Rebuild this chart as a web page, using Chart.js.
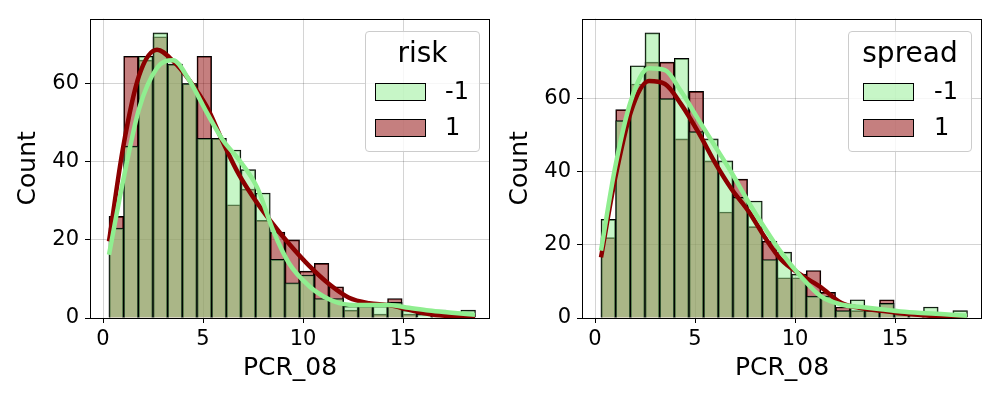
<!DOCTYPE html>
<html>
<head>
<meta charset="utf-8">
<script src="https://cdn.jsdelivr.net/npm/chart.js@4.4.1/dist/chart.umd.min.js"></script>
<style>
  body { margin: 0; background: #fff; font-family: "DejaVu Sans", sans-serif; }
  #wrap { position: relative; width: 1000px; height: 400px; overflow: hidden; }
  canvas { position: absolute; top: 0; }
  .legend { position: absolute; border: 1px solid #cccccc; border-radius: 4px; background: rgba(255,255,255,0.8); box-sizing: border-box; }
  .legend div { position: absolute; white-space: nowrap; line-height: 1; color: #000; }
  .patch { border: 1px solid #000; box-sizing: border-box; }
</style>
</head>
<body>
<div id="wrap">
  <canvas id="left" width="500" height="400" style="left:0"></canvas>
  <canvas id="right" width="500" height="400" style="left:500px"></canvas>
</div>
<script>
// histogram bins of PCR_08 (same bins in both panels)
const binStart = 0.3;
const binWidth = 0.733;
const hueLevels = ['-1', '1'];

// left panel: hue = risk
const riskGreen = [23, 44, 67, 73, 65, 60, 46, 46, 43, 38, 32, 15, 9, 11, 5, 5, 3, 3, 3, 4, 2, 1, 2, 1, 2];
const riskRed   = [26, 67, 66, 72, 65, 60, 67, 46, 29, 33, 25, 22, 20, 12, 14, 8, 2, 4, 1, 5, 1, 0, 1, 1, 0];

// right panel: hue = spread
const spreadGreen = [27, 54, 69, 78, 60, 71, 51, 49, 43, 33, 32, 16, 18, 12, 6, 6, 2, 5, 2, 4, 2, 1, 3, 1, 2];
const spreadRed   = [22, 57, 64, 70, 70, 49, 62, 43, 29, 38, 25, 21, 11, 11, 13, 7, 3, 2, 2, 5, 1, 1, 0, 1, 0];

// kde curves (in count units)
const kdeX = [0.3, 1.0, 1.8, 2.7, 3.5, 4.3, 5.2, 6.0, 6.8, 7.7, 8.5, 9.3, 10.3, 11.3, 12.3, 13.3, 14.3, 15.3, 16.3, 17.3, 18.6];
const riskKdeGreen   = [16.2, 35, 53.5, 64, 66, 61, 52.5, 45.5, 40.5, 33.5, 22.5, 14, 8.2, 4.8, 3.4, 3.3, 3.3, 2.6, 1.9, 1.4, 0.8];
const riskKdeRed     = [19.6, 43.5, 62, 68.7, 65.8, 61, 54, 45, 36.7, 29.5, 24, 19, 13.4, 8.7, 5.2, 3.8, 3.3, 2.1, 1.0, 0.5, 0.3];
const spreadKdeGreen = [18.4, 41, 59.5, 68.3, 67.8, 62, 54, 47, 40, 31.5, 24.5, 18, 11.3, 5.9, 3.7, 3.0, 2.4, 1.8, 1.4, 1.1, 0.6];
const spreadKdeRed   = [16.6, 38, 56.5, 64.8, 64, 58.5, 50.5, 42.5, 35.5, 29, 22, 16, 11.8, 8.4, 4.2, 2.7, 2.0, 1.3, 0.8, 0.4, 0.2];

const xTicks = [0, 5, 10, 15];

const GREEN = 'lightgreen', GREEN_FILL = 'rgba(144,238,144,0.5)';
const RED = 'darkred', RED_FILL = 'rgba(139,0,0,0.5)';

Chart.defaults.font.family = '"DejaVu Sans", sans-serif';
Chart.defaults.color = '#000';

// draws the four spines
const frame = {
  id: 'frame',
  afterDraw(chart) {
    const a = chart.chartArea, c = chart.ctx;
    c.save();
    c.strokeStyle = '#000';
    c.lineWidth = 1;
    c.strokeRect(Math.round(a.left) + 0.5, Math.round(a.top) + 0.5, Math.round(a.right - a.left) - 1, Math.round(a.bottom - a.top));
    c.restore();
  }
};

function bars(counts) {
  return counts.map((v, i) => ({ x: binStart + binWidth * (i + 0.5), y: v }));
}
function curve(ys) {
  return kdeX.map((x, i) => ({ x: x, y: ys[i] }));
}

function panel(id, green, red, kdeGreen, kdeRed, yMax, axisW, padRight, titlePad) {
  new Chart(document.getElementById(id), {
    type: 'bar',
    data: {
      datasets: [
        { type: 'line', data: curve(kdeGreen), borderColor: GREEN, borderWidth: 4.5, pointRadius: 0, cubicInterpolationMode: 'monotone', order: 0 },
        { type: 'line', data: curve(kdeRed), borderColor: RED, borderWidth: 4.5, pointRadius: 0, cubicInterpolationMode: 'monotone', order: 1 },
        { data: bars(green), backgroundColor: GREEN_FILL, borderColor: '#000', borderWidth: 1, order: 2 },
        { data: bars(red), backgroundColor: RED_FILL, borderColor: '#000', borderWidth: 1, order: 3 }
      ]
    },
    options: {
      responsive: false,
      animation: false,
      devicePixelRatio: 1,
      grouped: false,
      barPercentage: 1,
      categoryPercentage: 1,
      layout: { padding: { left: 0, right: padRight, top: 17, bottom: 0 } },
      plugins: { legend: { display: false }, tooltip: { enabled: false } },
      scales: {
        x: {
          type: 'linear', min: -0.65, max: 19.35, offset: false,
          afterBuildTicks: s => { s.ticks = xTicks.map(v => ({ value: v })); },
          afterFit: s => { s.height = 82; },
          grid: { offset: false, color: 'rgba(0,0,0,0.17)', tickColor: '#000', tickLength: 5 },
          border: { display: false },
          ticks: { font: { size: 21 }, padding: 4, maxRotation: 0 },
          title: { display: true, text: 'PCR_08', font: { size: 25 }, padding: { top: 0, bottom: 17 } }
        },
        y: {
          min: 0, max: yMax,
          afterBuildTicks: s => { s.ticks = s.ticks.filter(t => t.value % 20 === 0); },
          afterFit: s => { s.width = axisW; },
          grid: { color: 'rgba(0,0,0,0.17)', tickColor: '#000', tickLength: 5 },
          border: { display: false },
          ticks: { font: { size: 21 }, padding: 6, stepSize: 20 },
          title: { display: true, text: 'Count', font: { size: 25 }, padding: { top: titlePad, bottom: 0 } }
        }
      }
    },
    plugins: [frame]
  });
}

panel('left', riskGreen, riskRed, riskKdeGreen, riskKdeRed, 76.65, 90, 10, 13);
panel('right', spreadGreen, spreadRed, spreadKdeGreen, spreadKdeRed, 81.9, 82, 18, 5);

// matplotlib-style legend boxes
function legend(title, left, width, patchX, labelX) {
  const wrap = document.getElementById('wrap');
  const box = document.createElement('div');
  box.className = 'legend';
  Object.assign(box.style, { left: left + 'px', top: '31px', width: width + 'px', height: '121px' });
  const t = document.createElement('div');
  t.textContent = title;
  Object.assign(t.style, { left: '0', width: (width - 2) + 'px', textAlign: 'center', top: '7px', fontSize: '28px' });
  box.appendChild(t);
  const fills = [GREEN_FILL, RED_FILL];
  const patchTops = [51, 87];
  hueLevels.forEach((lvl, i) => {
    const p = document.createElement('div');
    p.className = 'patch';
    Object.assign(p.style, { left: patchX + 'px', top: patchTops[i] + 'px', width: '51px', height: '18px', background: fills[i] });
    box.appendChild(p);
    const l = document.createElement('div');
    l.textContent = lvl;
    Object.assign(l.style, { left: labelX + 'px', top: (patchTops[i] - 4) + 'px', fontSize: '24px' });
    box.appendChild(l);
  });
  wrap.appendChild(box);
}
legend('risk', 365, 115, 9, 79);
legend('spread', 848, 124, 14, 85);
</script>
</body>
</html>
